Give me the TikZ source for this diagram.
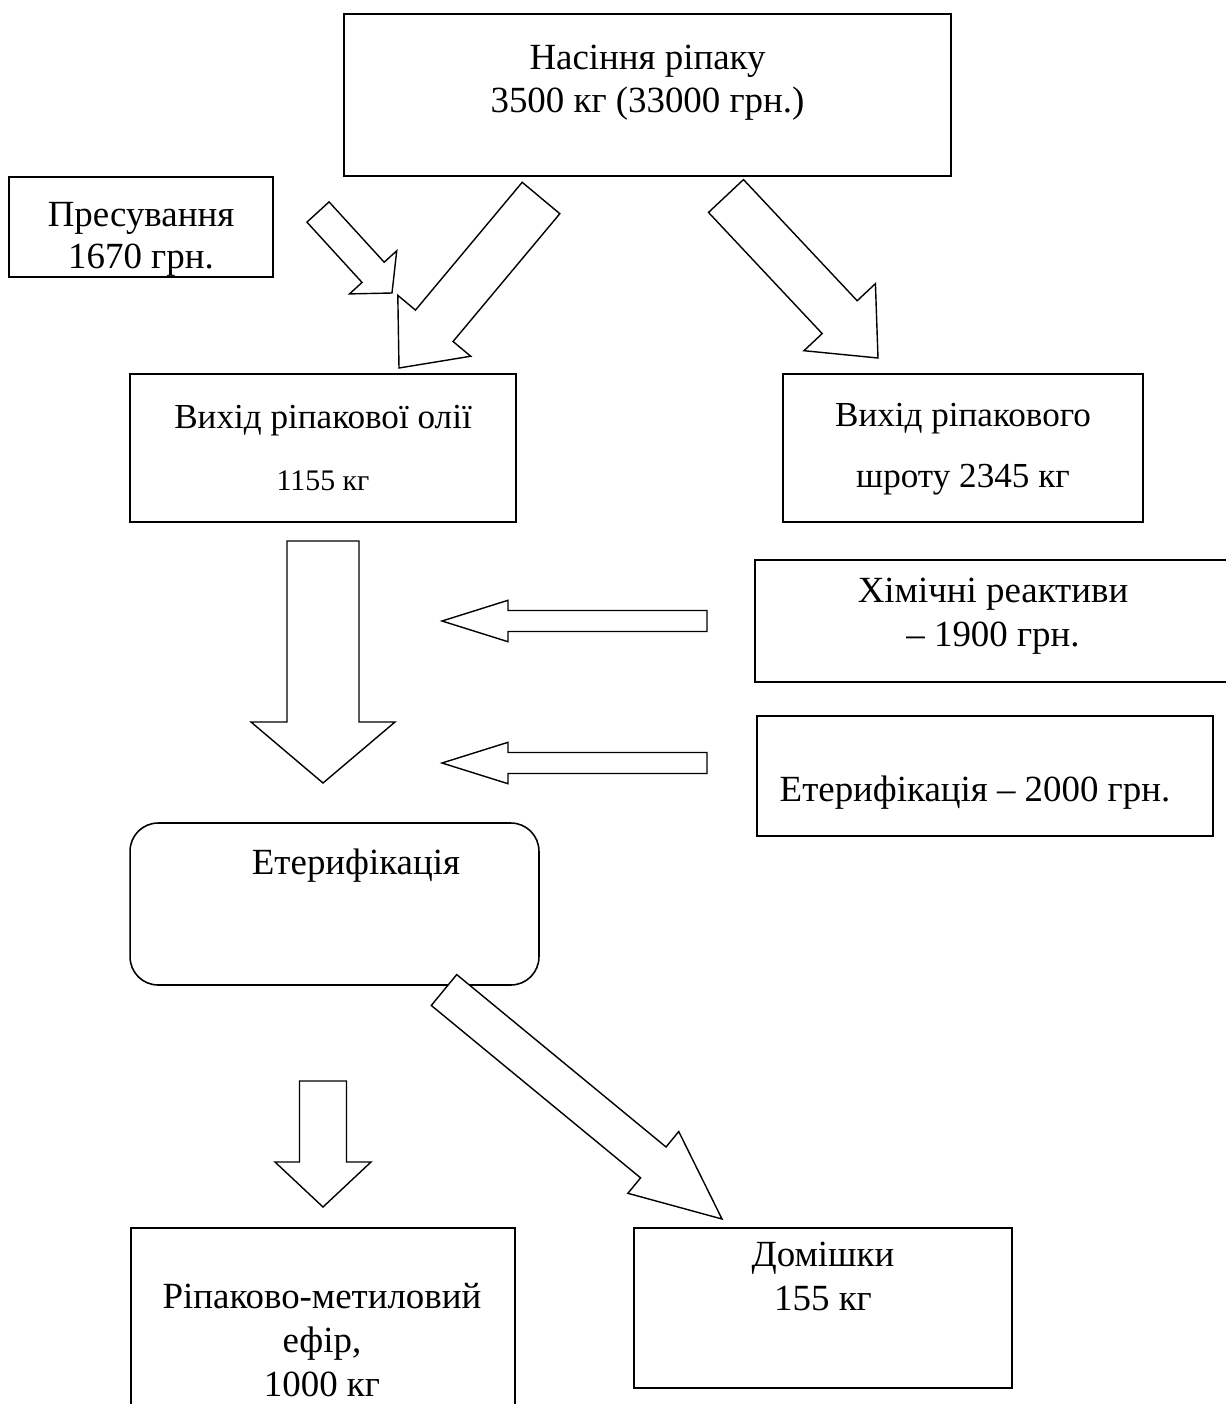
\documentclass[tikz,border=0pt]{standalone}
\usepackage{fontspec}
\setmainfont{Liberation Serif}
\usetikzlibrary{positioning,calc}
\tikzset{
	box/.style      = {shape=rectangle, draw, line width=0.9pt, align=center,
		inner sep=0pt, font=\fontsize{21}{25}\selectfont},
	roundbox/.style = {box, rounded corners=16pt},
	txt/.style      = {align=center, inner sep=0pt, font=\fontsize{21}{25}\selectfont},
	fatarrow/.style = {draw, line width=0.8pt, fill=white, line join=miter},
}
% block arrow: tail, tip, half shaft, half head, head length (in px)
\newcommand{\blockarrow}[5]{%
	\coordinate (ah) at ($(#2)!#5*0.02cm!(#1)$);
	\draw[fatarrow] ($(#1)!#3*0.02cm!90:(#2)$) -- ($(ah)!#3*0.02cm!90:(#2)$)
		-- ($(ah)!#4*0.02cm!90:(#2)$) -- (#2) -- ($(ah)!#4*0.02cm!-90:(#2)$)
		-- ($(ah)!#3*0.02cm!-90:(#2)$) -- ($(#1)!#3*0.02cm!-90:(#2)$) -- cycle;
}

\begin{document}
\begin{tikzpicture}[x=0.02cm, y=-0.02cm]
	\useasboundingbox (0,0) rectangle (1226,1404);
	\clip (0,0) rectangle (1226,1404);
	
	% boxes
	\node[box, minimum width=12.14cm, minimum height=3.24cm] (seeds) at (647.5,95) {};
	\node[txt, below=0.62cm of seeds.north] (seedsT) {Насіння ріпаку\\3500 кг (33000 грн.)};
	
	\node[box, minimum width=5.28cm, minimum height=2cm] (press) at (141,227) {};
	\node[txt, font=\fontsize{21}{24}\selectfont] (pressT) at (141,239) {Пресування\\1670 грн.};
	
	\node[box, minimum width=7.72cm, minimum height=2.96cm] (oil) at (323,448) {
		{\fontsize{20}{25}\selectfont Вихід ріпакової олії}\\[10pt]
		{\fontsize{17}{20}\selectfont 1155 кг}};
	\node[box, minimum width=7.2cm, minimum height=2.96cm] (meal) at (963,448) {};
	\node[txt, font=\fontsize{20}{25}\selectfont] (mealT) at (963,449) {Вихід ріпакового\\[10pt]шроту 2345 кг};
	
	\node[box, minimum width=9.7cm, minimum height=2.44cm] (chem) at (997.5,621) {};
	\node[txt] (chemT) at (993,616) {Хімічні реактиви\\– 1900 грн.};
	
	\node[box, minimum width=9.12cm, minimum height=2.4cm] (esterc) at (985,776) {};
	\node[txt] (estercT) at (975,793) {Етерифікація – 2000 грн.};
	
	\node[roundbox, minimum width=8.18cm, minimum height=3.24cm] (ester) at (334.5,904) {};
	\node[txt] (esterT) at (356,866) {Етерифікація};
	
	\node[box, minimum width=7.68cm, minimum height=4.24cm] (fame) at (323,1334) {};
	\node[txt] (fameT) at (322,1340) {Ріпаково-метиловий\\ефір,\\1000 кг};
	
	\node[box, minimum width=7.56cm, minimum height=3.2cm] (impur) at (823,1308) {};
	\node[txt] (impurT) at (823,1276) {Домішки\\155 кг};
	
	% arrow ends
	\coordinate (pressS) at (318,212);  \coordinate (pressE) at (392,293);
	\coordinate (oilS)   at (541,198);  \coordinate (oilE)   at (399,368);
	\coordinate (mealS)  at (726,196);  \coordinate (mealE)  at (878,358);
	\coordinate (downS)  at (323,541);  \coordinate (downE)  at (323,783);
	\coordinate (chemS)  at (707,621);  \coordinate (chemE)  at (442,621);
	\coordinate (costS)  at (707,763);  \coordinate (costE)  at (442,763);
	\coordinate (fameS)  at (323,1081); \coordinate (fameE)  at (323,1207);
	\coordinate (impurS) at (444,990);  \coordinate (impurE) at (722,1219);
	
	% block arrows
	\blockarrow{pressS}{pressE}{15}{32}{28}
	\blockarrow{oilS}{oilE}{24.5}{47.5}{55}
	\blockarrow{mealS}{mealE}{24}{49}{56}
	\blockarrow{downS}{downE}{36}{72}{61}
	\blockarrow{chemS}{chemE}{10.5}{20.7}{66}
	\blockarrow{costS}{costE}{10.5}{20.7}{66}
	\blockarrow{fameS}{fameE}{23.5}{48}{45}
	\blockarrow{impurS}{impurE}{20}{40}{89}
\end{tikzpicture}
\end{document}
